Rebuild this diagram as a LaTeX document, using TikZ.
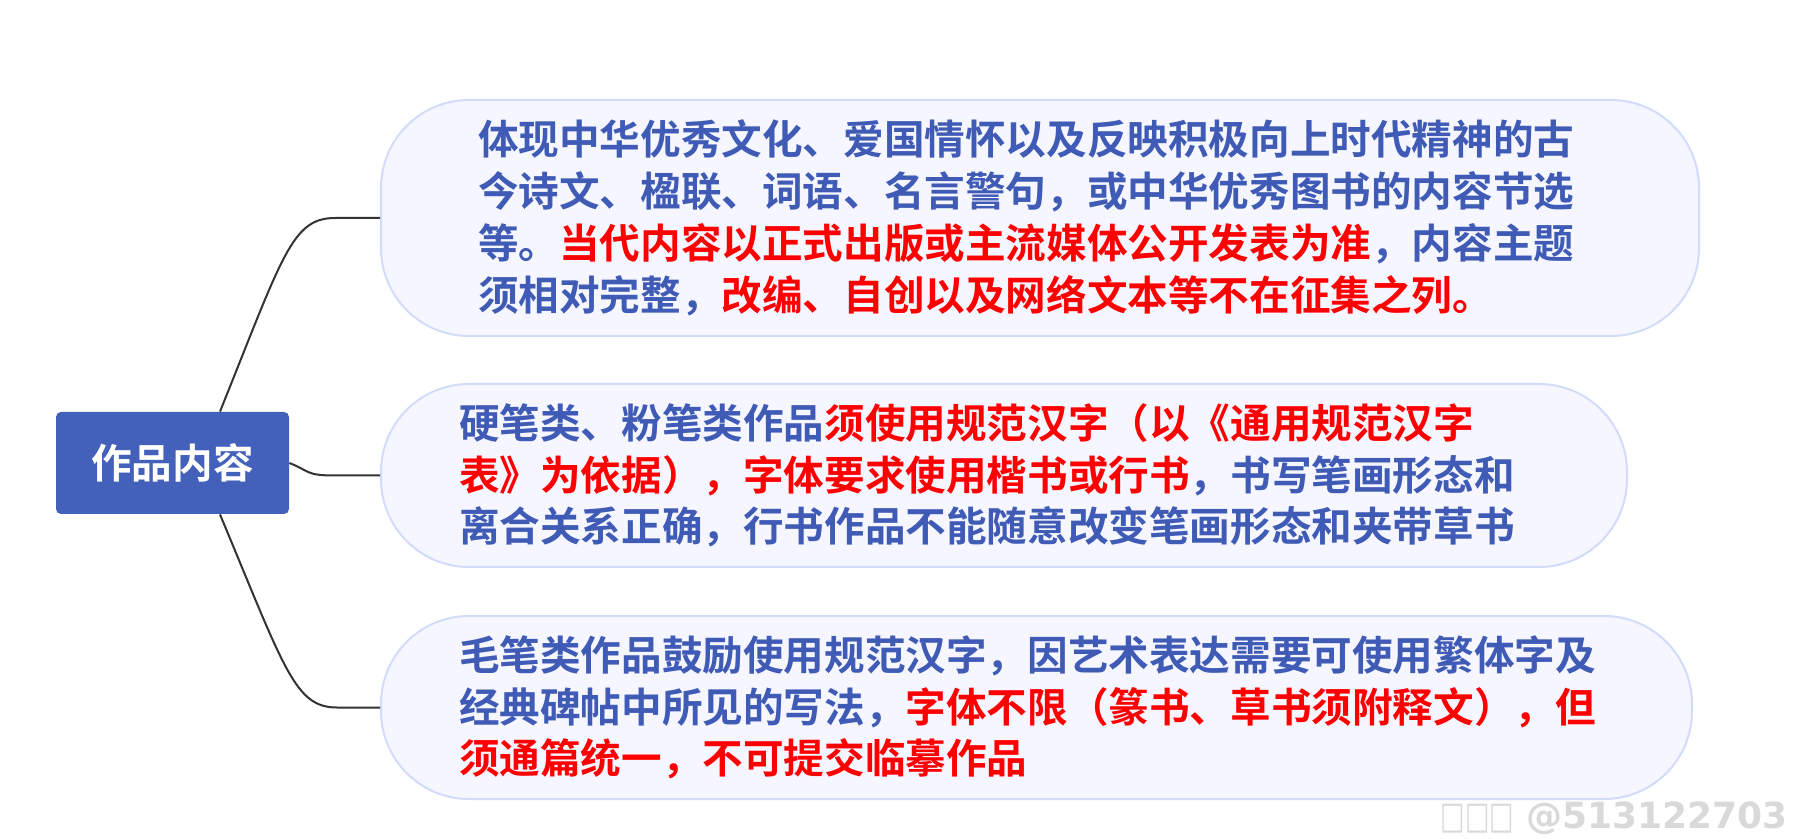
\documentclass[tikz,border=0pt]{standalone}
\usepackage{fontspec}
\newfontfamily\cjk{Noto Sans CJK SC Bold}
\newfontfamily\marksans{DejaVu Sans Bold}
\usetikzlibrary{calc}
\definecolor{rootblue}{HTML}{4361BB}
\definecolor{txtblue}{HTML}{3F5BB6}
\definecolor{boxfill}{HTML}{F5F6FF}
\definecolor{boxline}{HTML}{D3DBFA}
\definecolor{linkgray}{HTML}{333333}
\newcommand{\hl}[1]{\textcolor{red}{#1}}
\begin{document}
\begin{tikzpicture}[
  x=0.5pt, y=-0.5pt,
  rootbox/.style={rectangle, rounded corners=2.5pt, fill=rootblue, text=white, minimum width=116.5pt, minimum height=51pt, font=\cjk\fontsize{20.3}{25}\selectfont},
  topicbox/.style={rectangle, draw=boxline, line width=1pt, fill=boxfill, rounded corners=44pt, anchor=west, align=left, text=txtblue, inner ysep=0pt, font=\cjk\fontsize{20.3}{25.9}\selectfont},
  link/.style={draw=linkgray, line width=1pt}
]
\useasboundingbox (0,0) rectangle (1816,839);

% Blocks
\node[rootbox] (root) at (172.5,463) {作品内容};
\node[topicbox, minimum width=659pt, minimum height=118pt, inner xsep=48.5pt, text width=562pt] (content) at (380,218) {体现中华优秀文化、爱国情怀以及反映积极向上时代精神的古\\今诗文、楹联、词语、名言警句，或中华优秀图书的内容节选\\等。\hl{当代内容以正式出版或主流媒体公开发表为准}，内容主题\\须相对完整，\hl{改编、自创以及网络文本等不在征集之列。}};
\node[topicbox, minimum width=623pt, minimum height=91.5pt, inner xsep=39pt, text width=545pt] (hardpen) at (380,475.5) {硬笔类、粉笔类作品\hl{须使用规范汉字（以《通用规范汉字}\\\hl{表》为依据），字体要求使用楷书或行书}，书写笔画形态和\\离合关系正确，行书作品不能随意改变笔画形态和夹带草书};
\node[topicbox, minimum width=655.5pt, minimum height=91.5pt, inner xsep=39pt, text width=577.5pt] (brush) at (380,707.5) {毛笔类作品鼓励使用规范汉字，因艺术表达需要可使用繁体字及\\经典碑帖中所见的写法，\hl{字体不限（篆书、草书须附释文），但}\\\hl{须通篇统一，不可提交临摹作品}};

% Connectors
\draw[link] ($(root.north)+(47.5,0)$) .. controls (283,255) and (292,218) .. (335,218) -- (content.west);
\draw[link] (root.east) .. controls (310,471) and (305,475.5) .. (335,475.5) -- (hardpen.west);
\draw[link] ($(root.south)+(47.5,0)$) .. controls (285,670) and (295,707.5) .. (337,707.5) -- (brush.west);

% Watermark
\node[anchor=east, text=black!15, font=\marksans\fontsize{18}{18}\selectfont] (mark) at (1795,818) {\scalebox{0.72}[1.05]{□□□} @513122703};
\end{tikzpicture}
\end{document}
